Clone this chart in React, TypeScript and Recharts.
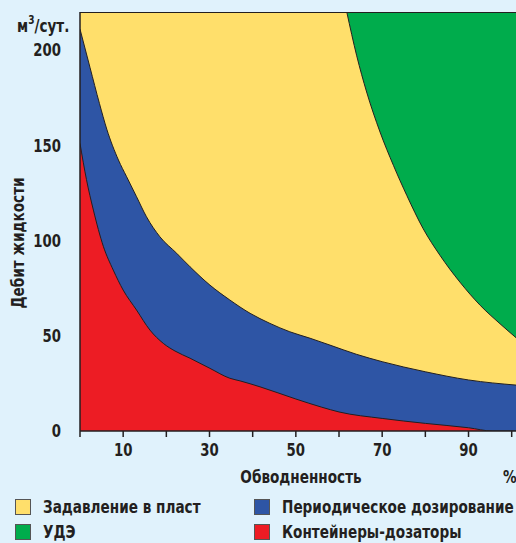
import React from 'react';
import { ComposedChart, Area, XAxis, YAxis, CartesianGrid } from 'recharts';

// Обводненность, % -> дебит жидкости, м3/сут (границы областей)
const redBoundary = [
  { x: 0, v: 151 }, { x: 1.5, v: 132 }, { x: 3.1, v: 116 }, { x: 5.4, v: 97 },
  { x: 7.7, v: 84.5 }, { x: 10, v: 74 }, { x: 13.1, v: 63.5 }, { x: 16.2, v: 53 },
  { x: 19.3, v: 46 }, { x: 22, v: 42 }, { x: 25.5, v: 38.2 }, { x: 30.1, v: 32.9 },
  { x: 34.7, v: 27.7 }, { x: 37.1, v: 26.3 }, { x: 41.7, v: 23.2 }, { x: 50, v: 16.8 },
  { x: 56, v: 12.5 }, { x: 60, v: 10 }, { x: 70, v: 6.6 }, { x: 80, v: 4 },
  { x: 90, v: 1.7 }, { x: 95.5, v: 0 }, { x: 101, v: 0 },
];

const blueBoundary = [
  { x: 0, v: 211 }, { x: 2.3, v: 191 }, { x: 4.5, v: 172 }, { x: 6.2, v: 158.5 },
  { x: 8.9, v: 142.3 }, { x: 10.8, v: 133.5 }, { x: 13.1, v: 123 },
  { x: 15.4, v: 112.5 }, { x: 18.5, v: 102 }, { x: 22.4, v: 93.3 }, { x: 25.5, v: 86.2 },
  { x: 30.1, v: 76.6 }, { x: 34.7, v: 68.8 }, { x: 39.4, v: 61.8 }, { x: 44, v: 56.5 },
  { x: 48.6, v: 52.1 }, { x: 53.3, v: 48.7 }, { x: 57.9, v: 45.1 }, { x: 64, v: 40.3 },
  { x: 70, v: 36.4 }, { x: 80, v: 31.1 }, { x: 90, v: 26.8 }, { x: 101, v: 24.1 },
];

const greenBoundary = [
  { x: 61.8, v: 220 }, { x: 64.1, v: 197 }, { x: 66.4, v: 178 }, { x: 69.5, v: 157 },
  { x: 72.6, v: 139.5 }, { x: 75.7, v: 123.7 }, { x: 79.5, v: 106.2 }, { x: 83.4, v: 92.2 },
  { x: 88, v: 78.2 }, { x: 92.7, v: 66 }, { x: 97.3, v: 56.3 }, { x: 101, v: 49 },
];

const xTicks = [0, 10, 20, 30, 40, 50, 60, 70, 80, 90, 100];
const xLabels = [10, 30, 50, 70, 90];
const yTicks = [0, 50, 100, 150, 200];

const legendItems = [
  { name: 'Задавление в пласт', color: '#ffdf6b' },
  { name: 'Периодическое дозирование', color: '#2e55a5' },
  { name: 'УДЭ', color: '#00ac4c' },
  { name: 'Контейнеры-дозаторы', color: '#ed1c24' },
];

const ink = '#231f20';
const font = '"DejaVu Sans Condensed", "DejaVu Sans", sans-serif';
const squeeze = 0.84;

const Narrow = ({ children, origin = 'left center' }: any) => (
  <span style={{ display: 'inline-block', whiteSpace: 'nowrap', transform: `scaleX(${squeeze})`, transformOrigin: origin }}>
    {children}
  </span>
);

const XTick = (props: any) => {
  const { x, y, payload } = props;
  const label = xLabels.includes(payload.value) ? String(payload.value) : '';
  return (
    <g transform={`translate(${x},${y})`}>
      <text transform={`scale(0.82,1)`} textAnchor="middle" dy="0.71em" fill={ink} fontSize={18} fontWeight={700} fontFamily={font} fontStretch="condensed">
        {label}
      </text>
    </g>
  );
};

const YTick = (props: any) => {
  const { x, y, payload } = props;
  return (
    <g transform={`translate(${x},${y})`}>
      <text transform={`scale(0.82,1)`} textAnchor="end" dy="0.355em" fill={ink} fontSize={18} fontWeight={700} fontFamily={font} fontStretch="condensed">
        {payload.value}
      </text>
    </g>
  );
};

export default function App() {
  return (
    <div style={{ position: 'absolute', left: 0, top: 0, width: 516, height: 543, background: '#e0f2fc', fontFamily: font, fontStretch: 'condensed', color: ink, overflow: 'hidden' }}>
      <ComposedChart width={516} height={543} margin={{ top: 12, right: 0, bottom: 82, left: 0 }}>
        <CartesianGrid horizontal={false} vertical={false} fill="#ffdf6b" />
        <XAxis
          type="number"
          dataKey="x"
          domain={[0, 101]}
          ticks={xTicks}
          height={30}
          stroke={ink}
          strokeWidth={1.5}
          tickSize={6}
          tick={<XTick />}
          tickMargin={6}
          allowDataOverflow
        />
        <YAxis
          type="number"
          domain={[0, 220]}
          ticks={yTicks}
          width={80}
          tickLine={false}
          stroke={ink}
          strokeWidth={1.5}
          tick={<YTick />}
          tickMargin={13}
          allowDataOverflow
        />
        <Area data={greenBoundary} dataKey="v" type="monotone" baseValue={220} fill="#00ac4c" fillOpacity={1} stroke={ink} strokeWidth={1} isAnimationActive={false} />
        <Area data={blueBoundary} dataKey="v" type="monotone" fill="#2e55a5" fillOpacity={1} stroke={ink} strokeWidth={1} isAnimationActive={false} />
        <Area data={redBoundary} dataKey="v" type="monotone" fill="#ed1c24" fillOpacity={1} stroke={ink} strokeWidth={1} isAnimationActive={false} />
      </ComposedChart>
      <div style={{ position: 'absolute', left: 80, top: 11.5, width: 436, borderTop: `1.5px solid ${ink}` }} />
      <div style={{ position: 'absolute', left: 17, top: 14, fontSize: 18, fontWeight: 700, lineHeight: '24px' }}>
        <Narrow>
          м<sup style={{ fontSize: 12, verticalAlign: 'top', lineHeight: '12px' }}>3</sup>/сут.
        </Narrow>
      </div>
      <div style={{ position: 'absolute', left: 18, top: 243, width: 0, height: 0 }}>
        <div style={{ position: 'absolute', left: 0, top: 0, transform: 'translate(-50%, -50%) rotate(-90deg)', whiteSpace: 'nowrap', fontSize: 18, fontWeight: 700, lineHeight: '20px' }}>
          <Narrow origin="center">Дебит жидкости</Narrow>
        </div>
      </div>
      <div style={{ position: 'absolute', left: 301, top: 476, transform: 'translate(-50%, -50%)', whiteSpace: 'nowrap', fontSize: 18, fontWeight: 700 }}>
        <Narrow origin="center">Обводненность</Narrow>
      </div>
      <div style={{ position: 'absolute', left: 503, top: 476, transform: 'translateY(-50%)', fontSize: 18, fontWeight: 700 }}>
        <Narrow>%</Narrow>
      </div>
      {legendItems.map((item, i) => (
        <div key={item.name} style={{ position: 'absolute', left: i % 2 === 0 ? 15 : 254, top: i < 2 ? 498 : 523, display: 'flex', alignItems: 'center', whiteSpace: 'nowrap' }}>
          <span style={{ width: 14, height: 14, background: item.color, border: `1.5px solid #555`, display: 'inline-block', flex: 'none' }} />
          <span style={{ marginLeft: 12, fontSize: 18, fontWeight: 700, lineHeight: '18px' }}>
            <Narrow>{item.name}</Narrow>
          </span>
        </div>
      ))}
    </div>
  );
}
